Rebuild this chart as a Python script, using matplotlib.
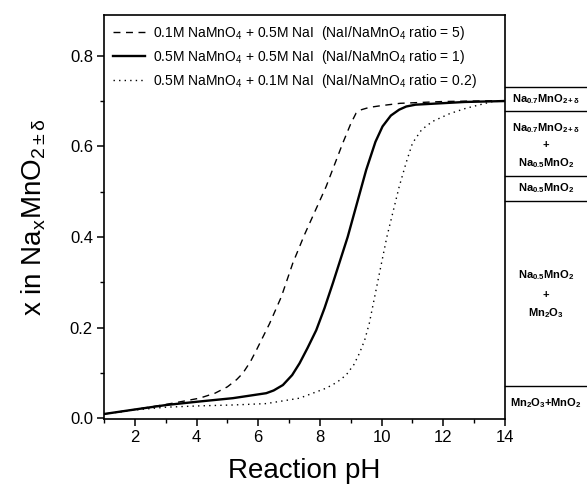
import matplotlib
matplotlib.use("Agg")
import matplotlib.pyplot as plt
from matplotlib.ticker import MultipleLocator

plt.rcParams['font.family'] = ['Liberation Sans', 'DejaVu Sans']
plt.rcParams['mathtext.fontset'] = 'custom'
plt.rcParams['mathtext.rm'] = 'Liberation Sans'
plt.rcParams['mathtext.it'] = 'Liberation Sans'
plt.rcParams['mathtext.bf'] = 'Liberation Sans:bold'

# ---- data ----
ph_dash = [1, 2, 3, 4.1, 4.6, 5.0, 5.3, 5.5, 5.75, 5.94, 6.37, 6.75, 7.12, 7.5, 8.2, 8.74, 9.0, 9.17,
           9.35, 9.6, 10.0, 10.6, 12, 14]
x_dash = [0.009, 0.019, 0.030, 0.044, 0.055, 0.069, 0.085, 0.099, 0.125, 0.150, 0.209, 0.268, 0.342,
          0.405, 0.511, 0.607, 0.650, 0.673, 0.681, 0.686, 0.690, 0.695, 0.699, 0.701]

ph_solid = [1, 2, 3.03, 4, 5.18, 6.26, 6.5, 6.8, 7.1, 7.34, 7.6, 7.88, 8.15, 8.42, 8.9, 9.5, 9.8, 10.03,
            10.3, 10.57, 10.8, 11.1, 12.7, 14]
x_solid = [0.009, 0.019, 0.029, 0.036, 0.044, 0.055, 0.061, 0.073, 0.095, 0.121, 0.155, 0.194,
           0.243, 0.298, 0.400, 0.548, 0.610, 0.644, 0.668, 0.681, 0.688, 0.692, 0.698, 0.700]

ph_dot = [1, 2, 3, 4.1, 5.2, 6.26, 7.34, 8.2, 8.55, 8.85, 9.1, 9.28, 9.45, 9.6, 9.93, 10.17, 10.57,
          10.8, 11.0, 11.3, 11.65, 12.2, 12.73, 13.6, 14]
x_dot = [0.009, 0.018, 0.024, 0.027, 0.029, 0.032, 0.044, 0.066, 0.079, 0.095, 0.118, 0.143, 0.172,
         0.209, 0.320, 0.400, 0.511, 0.565, 0.607, 0.637, 0.655, 0.672, 0.684, 0.699, 0.700]

labels = [r'0.1M NaMnO$_4$ + 0.5M NaI  (NaI/NaMnO$_4$ ratio = 5)',
          r'0.5M NaMnO$_4$ + 0.5M NaI  (NaI/NaMnO$_4$ ratio = 1)',
          r'0.5M NaMnO$_4$ + 0.1M NaI  (NaI/NaMnO$_4$ ratio = 0.2)']

# phase region boundaries (x values) and labels
region_bounds = [0.731, 0.677, 0.535, 0.480, 0.071]
region_labels = [
    (0.704, r'$\mathbf{Na_{0.7}MnO_{2+\delta}}$'),
    (0.641, r'$\mathbf{Na_{0.7}MnO_{2+\delta}}$'),
    (0.606, r'$\mathbf{+}$'),
    (0.563, r'$\mathbf{Na_{0.5}MnO_2}$'),
    (0.508, r'$\mathbf{Na_{0.5}MnO_2}$'),
    (0.316, r'$\mathbf{Na_{0.5}MnO_2}$'),
    (0.275, r'$\mathbf{+}$'),
    (0.232, r'$\mathbf{Mn_2O_3}$'),
    (0.034, r'$\mathbf{Mn_2O_3{+}MnO_2}$'),
]

fig = plt.figure(figsize=(5.87, 4.84), dpi=100)
ax = fig.add_axes([104/587, 1-419/484, 401/587, 404/484])

ax.plot(ph_dash, x_dash, color='black', lw=1.0, ls=(0, (5, 4)), label=labels[0])
ax.plot(ph_solid, x_solid, color='black', lw=1.7, ls='-', label=labels[1])
ax.plot(ph_dot, x_dot, color='black', lw=1.0, ls=(0, (1, 3)), label=labels[2])

ax.set_xlim(1, 14)
ax.set_ylim(-0.002, 0.89)
ax.xaxis.set_minor_locator(MultipleLocator(1))
ax.yaxis.set_minor_locator(MultipleLocator(0.1))
ax.set_xticks([2, 4, 6, 8, 10, 12, 14])
ax.set_xticklabels(['2', '4', '6', '8', '10', '12', '14'])
ax.set_yticks([0.0, 0.2, 0.4, 0.6, 0.8])
ax.set_yticklabels(['0.0', '0.2', '0.4', '0.6', '0.8'])
ax.tick_params(which='major', direction='out', length=5, width=1.1, labelsize=12, pad=3)
ax.tick_params(which='minor', direction='out', length=3, width=1.0)
ax.tick_params(axis='y', right=False)
ax.tick_params(axis='x', top=False)
for s in ax.spines.values():
    s.set_linewidth(1.2)

ax.set_xlabel('Reaction pH', fontsize=20, labelpad=9)
ax.set_ylabel(r'x in Na$_x$MnO$_{2\pm\delta}$', fontsize=20, labelpad=16)

leg = ax.legend(loc='upper left', bbox_to_anchor=(0.0, 1.0), frameon=False, fontsize=10,
                handlelength=2.3, handletextpad=0.6, labelspacing=0.42, borderaxespad=0.25,
                borderpad=0.4)

# phase boxes on right side
for b in region_bounds:
    ax.plot([14, 17], [b, b], color='black', lw=1.0, clip_on=False)
for y, t in region_labels:
    ax.text(15.32, y, t, ha='center', va='center', fontsize=8, clip_on=False)

fig.savefig('out.png', dpi=100)
